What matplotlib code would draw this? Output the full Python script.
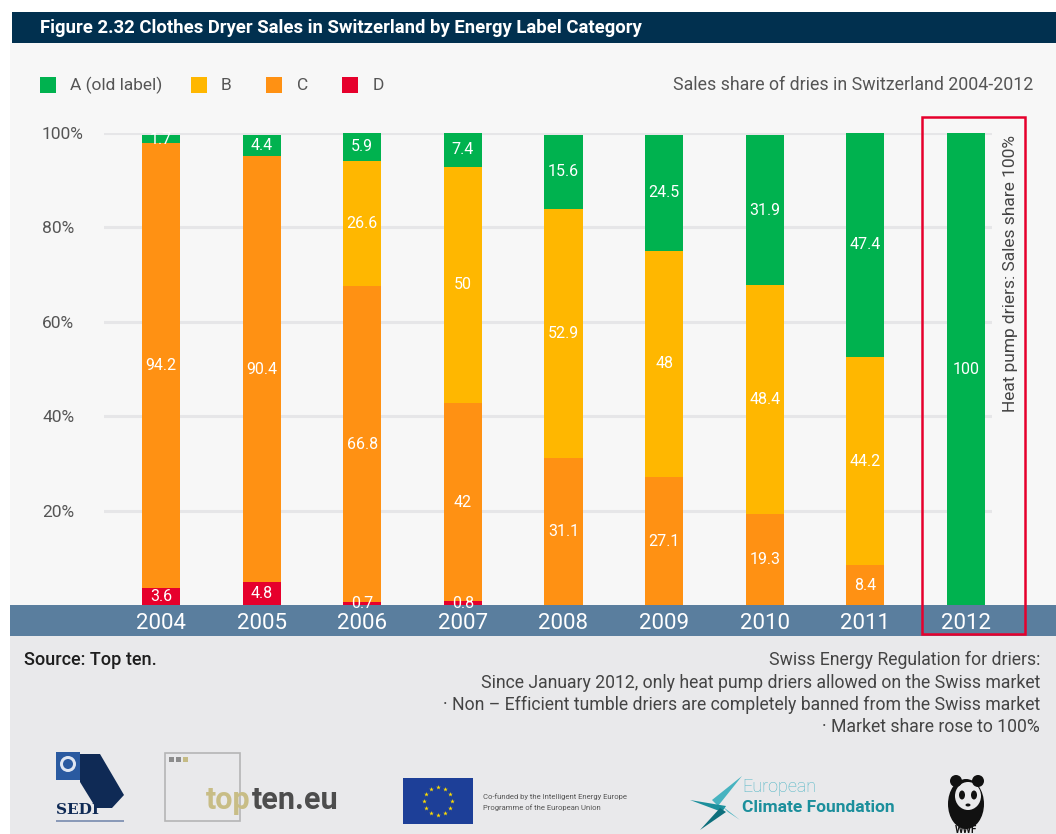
import matplotlib
matplotlib.use("Agg")
import matplotlib.pyplot as plt
from matplotlib.patches import Rectangle, Circle, Ellipse, Polygon
import numpy as np

plt.rcParams['font.family'] = ['Roboto', 'DejaVu Sans']

# ---- data -------------------------------------------------------------
years = ["2004", "2005", "2006", "2007", "2008", "2009", "2010", "2011", "2012"]
share_d = [3.6, 4.8, 0.7, 0.8, 0, 0, 0, 0, 0]
share_c = [94.2, 90.4, 66.8, 42, 31.1, 27.1, 19.3, 8.4, 0]
share_b = [0, 0, 26.6, 50, 52.9, 48, 48.4, 44.2, 0]
share_a = [1.7, 4.4, 5.9, 7.4, 15.6, 24.5, 31.9, 47.4, 100]
y_ticks = [20, 40, 60, 80, 100]
y_tick_labels = ["20%", "40%", "60%", "80%", "100%"]

categories = ["A (old label)", "B", "C", "D"]
colors = {"A (old label)": "#00b24f", "B": "#ffb700", "C": "#ff9113", "D": "#e6002c"}

W, H = 1056, 834
fig = plt.figure(figsize=(W / 100, H / 100), dpi=100)
fig.patch.set_facecolor("white")
grey_txt = "#555555"

# ---- background panels (pixel coordinates) ---------------------------
bg = fig.add_axes([0, 0, 1, 1], zorder=0)
bg.set_xlim(0, W)
bg.set_ylim(H, 0)
bg.axis("off")
bg.add_patch(Rectangle((12, 12), W - 12, 31, color="#01304f", lw=0))
bg.add_patch(Rectangle((10, 43), W - 10, 562, color="#f7f7f7", lw=0))
bg.add_patch(Rectangle((10, 605), W - 10, 31, color="#5a7e9e", lw=0))
bg.add_patch(Rectangle((10, 636), W - 10, H - 636, color="#e9e9eb", lw=0))

bg.text(40, 28, "Figure 2.32 Clothes Dryer Sales in Switzerland by Energy Label Category",
        color="white", fontsize=13.3, fontweight="bold", va="center", ha="left")

# legend
leg_x = [40, 191, 266, 342]
leg_tx = [70, 221, 297, 373]
for cat, sx, tx in zip(categories, leg_x, leg_tx):
    bg.add_patch(Rectangle((sx, 77), 16, 16, color=colors[cat], lw=0))
    bg.text(tx, 85, cat, fontsize=12.5, color=grey_txt, va="center", ha="left")
bg.text(1033, 85, "Sales share of dries in Switzerland 2004-2012", fontsize=12.8,
        color=grey_txt, va="center", ha="right")

# footer texts
bg.text(24, 660, "Source: Top ten.", fontsize=13, color="#1e1e1e", va="center",
        ha="left", fontweight="medium")
notes = ["Swiss Energy Regulation for driers:",
         "Since January 2012, only heat pump driers allowed on the Swiss market",
         "\u00b7 Non \u2013 Efficient tumble driers are completely banned from the Swiss market",
         "\u00b7 Market share rose to 100%"]
for i, line in enumerate(notes):
    bg.text(1040, 660 + i * 22.5, line, fontsize=12.7, color="#444444", va="center",
            ha="right")

# ---- logos (simplified) ----------------------------------------------
# SEDI
bg.add_patch(Rectangle((56, 752), 24, 28, color="#2a5aa0", lw=0))
bg.add_patch(Circle((68, 764), 8, color="#dfe6f2", lw=0))
bg.add_patch(Circle((68, 764), 5, color="#2a5aa0", lw=0))
bg.add_patch(Polygon([(80, 754), (100, 754), (124, 795), (112, 808), (96, 808), (80, 782)],
                     closed=True, color="#0f2a55", lw=0))
bg.text(56, 810, "SEDI", fontsize=11, fontweight="bold", color="#0f2a55",
        va="center", ha="left", family=["DejaVu Serif"])
bg.add_patch(Rectangle((56, 820), 68, 2, color="#8a9ab8", lw=0))

# topten.eu
bg.add_patch(Rectangle((165, 753), 75, 68, fill=False, ec="#b5b5b5", lw=1.2))
bg.add_patch(Rectangle((169, 757), 5, 5, color="#8c8c8c", lw=0))
bg.add_patch(Rectangle((176, 757), 5, 5, color="#8c8c8c", lw=0))
bg.add_patch(Rectangle((183, 757), 5, 5, color="#c5bb85", lw=0))
t_top = bg.text(206, 800, "top", fontsize=22, fontweight="bold", color="#c8bd86",
                va="center", ha="left")
fig.canvas.draw()
ext = t_top.get_window_extent()
bg.text(ext.x1 + 1, 800, "ten.eu", fontsize=22, fontweight="bold", color="#4d4d4d",
        va="center", ha="left")

# EU flag + caption
bg.add_patch(Rectangle((403, 778), 70, 46, color="#1d3f98", lw=0))
for ang in np.linspace(0, 2 * np.pi, 12, endpoint=False):
    bg.plot(438 + 14 * np.cos(ang), 801 + 14 * np.sin(ang), marker="*",
            color="#ffdd00", ms=3.5, mew=0)
bg.text(483, 797, "Co-funded by the Intelligent Energy Europe", fontsize=5.5,
        color="#555555", va="center", ha="left")
bg.text(483, 808, "Programme of the European Union", fontsize=5.5,
        color="#555555", va="center", ha="left")

# European Climate Foundation
teal = "#1c8f9c"
bg.add_patch(Polygon([(742, 776), (718, 806), (712, 800)], closed=True, color="#47b3c0", lw=0))
bg.add_patch(Polygon([(690, 800), (726, 806), (722, 812)], closed=True, color=teal, lw=0))
bg.add_patch(Polygon([(700, 830), (720, 808), (726, 812)], closed=True, color="#0e6f7c", lw=0))
bg.add_patch(Polygon([(722, 806), (740, 820), (728, 812)], closed=True, color="#47b3c0", lw=0))
bg.text(742, 787, "European", fontsize=13, color="#4fb5c4", va="center", ha="left",
        fontweight="light")
bg.text(742, 807, "Climate Foundation", fontsize=12.5, color=teal, va="center",
        ha="left", fontweight="bold")

# WWF panda
bg.add_patch(Ellipse((966, 804), 36, 50, color="#111111", lw=0))
bg.add_patch(Ellipse((968, 796), 26, 28, color="#e9e9eb", lw=0))
bg.add_patch(Circle((956, 781), 6, color="#111111", lw=0))
bg.add_patch(Circle((978, 781), 6, color="#111111", lw=0))
bg.add_patch(Ellipse((962, 795), 6, 9, color="#111111", lw=0))
bg.add_patch(Ellipse((974, 795), 6, 9, color="#111111", lw=0))
bg.add_patch(Ellipse((968, 805), 5, 3, color="#111111", lw=0))
bg.text(966, 830, "WWF", fontsize=7, fontweight="bold", color="#111111",
        va="center", ha="center")

# ---- main chart ------------------------------------------------------
left, right, top, bottom = 104, 992, 133, 605
ax = fig.add_axes([left / W, 1 - bottom / H, (right - left) / W, (bottom - top) / H],
                  zorder=2)
ax.patch.set_alpha(0)
x = np.arange(len(years))
ax.set_xlim(-0.5665, 8.2585)
ax.set_ylim(0, 100)

for yv in y_ticks:
    ax.axhline(yv, color="#e6e6e8", lw=2.2, zorder=0)

bar_w = 0.378
base = np.zeros(len(years))
stack = [("D", share_d), ("C", share_c), ("B", share_b), ("A (old label)", share_a)]
for cat, vals in stack:
    vals = np.array(vals, dtype=float)
    ax.bar(x, vals, bar_w, bottom=base, color=colors[cat], lw=0, zorder=2)
    for xi, b, v in zip(x, base, vals):
        if v > 0:
            ax.text(xi, b + v / 2, f"{v:g}", color="white", fontsize=11.5,
                    ha="center", va="center", zorder=3, clip_on=False)
    base = base + vals

for s in ax.spines.values():
    s.set_visible(False)

ax.set_yticks(y_ticks)
ax.set_yticklabels(y_tick_labels)
ax.tick_params(axis="y", length=0, pad=44.6, labelsize=12.5, labelcolor=grey_txt)
for lbl in ax.get_yticklabels():
    lbl.set_horizontalalignment("left")

ax.set_xticks(x)
ax.set_xticklabels(years)
ax.tick_params(axis="x", length=0, pad=6, labelsize=16, labelcolor="white")

# ---- overlay: highlight frame and vertical note ------------------------
fg = fig.add_axes([0, 0, 1, 1], zorder=3)
fg.set_xlim(0, W)
fg.set_ylim(H, 0)
fg.axis("off")
fg.patch.set_alpha(0)
fg.add_patch(Rectangle((922, 117), 103, 517, fill=False, ec="#e6002c", lw=1.8))
fg.text(1011, 135, "Heat pump driers: Sales share 100%", rotation=90, fontsize=12.5,
        color="#444444", ha="center", va="top")

fig.savefig("out.png", dpi=100, facecolor=fig.get_facecolor())
